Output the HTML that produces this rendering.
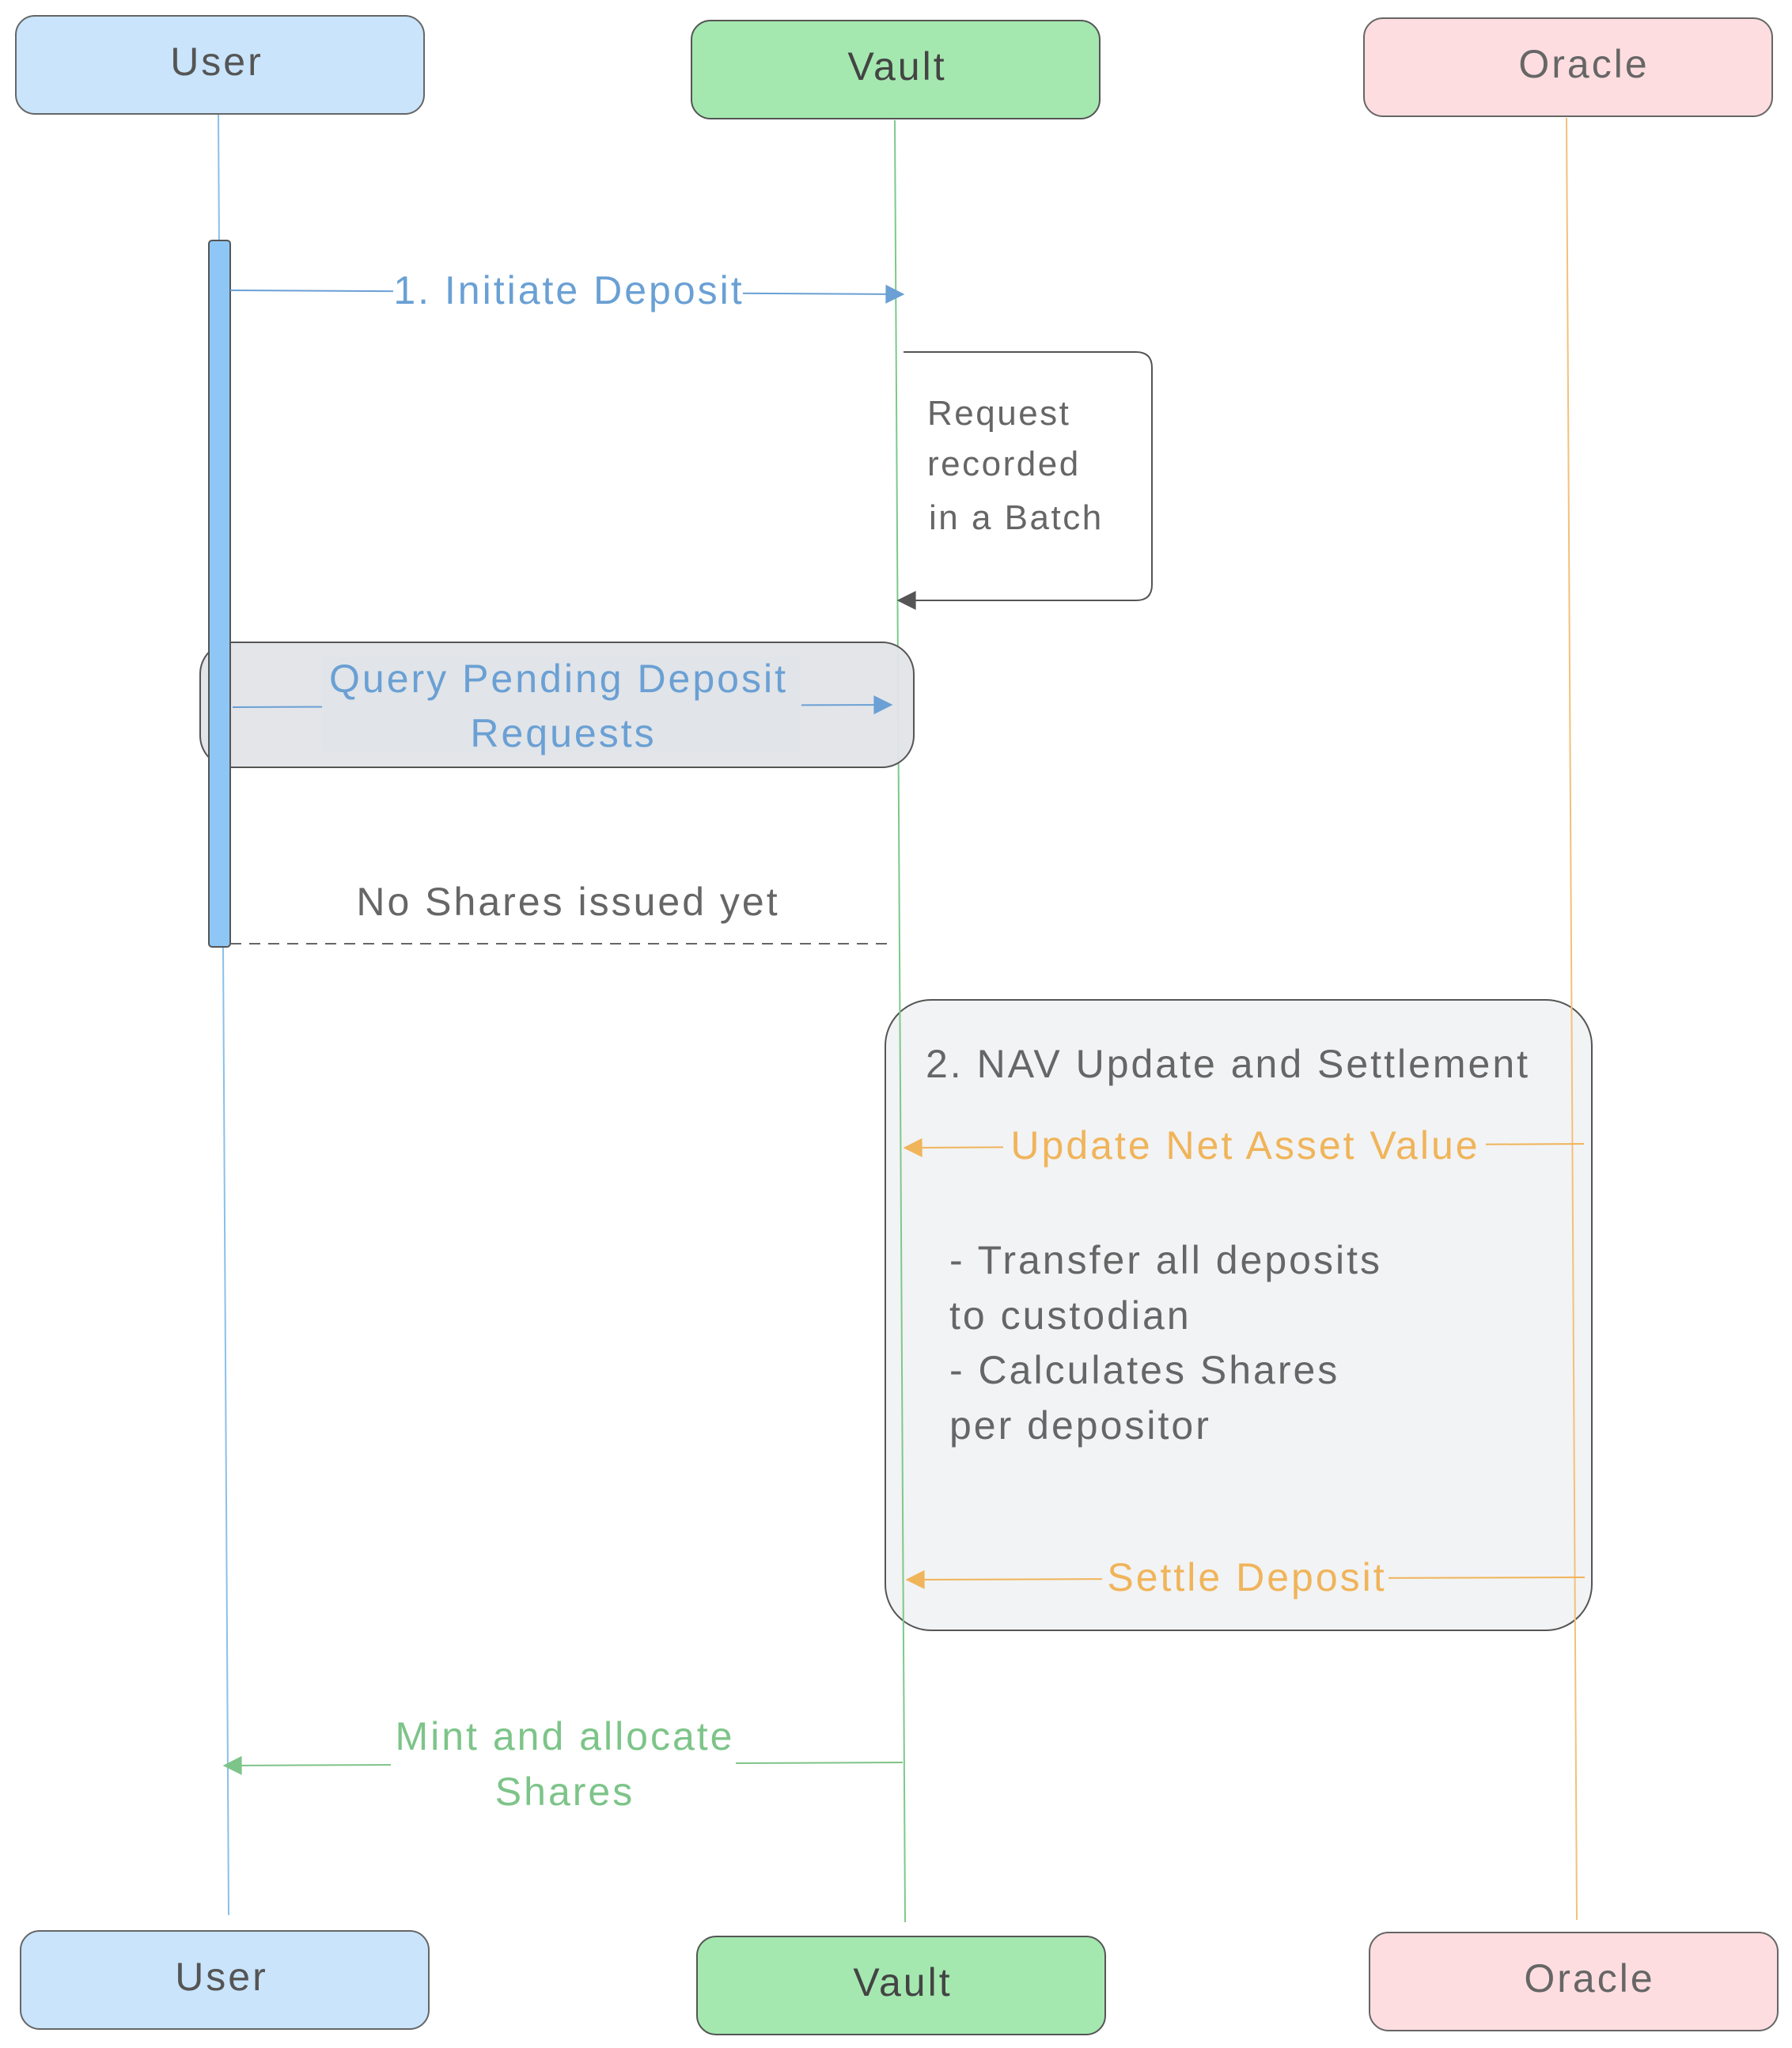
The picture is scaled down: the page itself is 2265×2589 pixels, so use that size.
<!DOCTYPE html>
<html><head><meta charset="utf-8"><style>
html,body{margin:0;padding:0;background:#fff;}
svg{display:block;}
text{font-family:"Liberation Sans","DejaVu Sans",sans-serif;letter-spacing:3px;}
</style></head><body>
<svg width="2265" height="2589" viewBox="0 0 2265 2589" xmlns="http://www.w3.org/2000/svg">
<defs>
<marker id="ao" viewBox="0 0 10 10" refX="9" refY="5" markerWidth="28" markerHeight="24" markerUnits="userSpaceOnUse" orient="auto"><path d="M0,0L10,5L0,10z" fill="#f0b45a"/></marker>
<marker id="ag" viewBox="0 0 10 10" refX="9" refY="5" markerWidth="28" markerHeight="24" markerUnits="userSpaceOnUse" orient="auto"><path d="M0,0L10,5L0,10z" fill="#7dc489"/></marker>
<marker id="ak" viewBox="0 0 10 10" refX="9" refY="5" markerWidth="28" markerHeight="24" markerUnits="userSpaceOnUse" orient="auto"><path d="M0,0L10,5L0,10z" fill="#555"/></marker>
<marker id="ab2" viewBox="0 0 10 10" refX="9" refY="5" markerWidth="28" markerHeight="24" markerUnits="userSpaceOnUse" orient="auto"><path d="M0,0L10,5L0,10z" fill="#6aa0d4"/></marker>
</defs>

<rect x="1119" y="1264" width="893" height="797" rx="58" fill="#f2f3f4" stroke="#555" stroke-width="2"/>

<line x1="276" y1="145" x2="289" y2="2421" stroke="#8ac0ea" stroke-width="2"/>
<line x1="1131" y1="152" x2="1144" y2="2430" stroke="#7cc98a" stroke-width="2"/>
<line x1="1980" y1="149" x2="1993" y2="2427" stroke="#f4c07a" stroke-width="2"/>

<rect x="253" y="812" width="902" height="158" rx="40" fill="#e1e4e8" fill-opacity="0.95" stroke="#555" stroke-width="2"/>

<rect x="264" y="304" width="27" height="893" rx="4" fill="#8ec7f5" stroke="#555" stroke-width="2"/>

<rect x="20" y="20" width="516" height="124" rx="24" fill="#c9e4fb" stroke="#666" stroke-width="2"/>
<text x="274" y="95" font-size="50" fill="#555" text-anchor="middle">User</text>
<rect x="874" y="26" width="516" height="124" rx="24" fill="#a4e8b0" stroke="#555" stroke-width="2"/>
<text x="1134" y="101" font-size="50" fill="#444" text-anchor="middle">Vault</text>
<rect x="1724" y="23" width="516" height="124" rx="24" fill="#fddde0" stroke="#666" stroke-width="2"/>
<text x="2002" y="98" font-size="50" fill="#666" text-anchor="middle">Oracle</text>

<rect x="26" y="2441" width="516" height="124" rx="24" fill="#c9e4fb" stroke="#666" stroke-width="2"/>
<text x="280" y="2516" font-size="50" fill="#555" text-anchor="middle">User</text>
<rect x="881" y="2448" width="516" height="124" rx="24" fill="#a4e8b0" stroke="#555" stroke-width="2"/>
<text x="1141" y="2523" font-size="50" fill="#444" text-anchor="middle">Vault</text>
<rect x="1731" y="2443" width="516" height="124" rx="24" fill="#fddde0" stroke="#666" stroke-width="2"/>
<text x="2009" y="2518" font-size="50" fill="#666" text-anchor="middle">Oracle</text>

<line x1="291" y1="367" x2="1141" y2="372" stroke="#6aa0d4" stroke-width="2" marker-end="url(#ab2)"/>
<rect x="497" y="335" width="442" height="60" fill="#fff"/>
<text x="719" y="384" font-size="50" fill="#6aa0d4" text-anchor="middle">1. Initiate Deposit</text>

<path d="M1142,445 L1436,445 Q1456,445 1456,465 L1456,739 Q1456,759 1436,759 L1136,759" fill="none" stroke="#555" stroke-width="2" marker-end="url(#ak)"/>
<text font-size="44" fill="#666" style="letter-spacing:2.5px"><tspan x="1172" y="537">Request</tspan><tspan x="1172" y="601">recorded</tspan><tspan x="1174" y="669">in a Batch</tspan></text>

<line x1="294" y1="894" x2="1126" y2="891" stroke="#6aa0d4" stroke-width="2" marker-end="url(#ab2)"/>
<rect x="407" y="830" width="606" height="120" fill="#e1e4e8"/>
<text font-size="50" fill="#6aa0d4" text-anchor="middle"><tspan x="706" y="875">Query Pending Deposit</tspan><tspan x="712" y="944">Requests</tspan></text>

<line x1="291" y1="1193" x2="1131" y2="1193" stroke="#666" stroke-width="2" stroke-dasharray="14,10"/>
<text x="718" y="1157" font-size="50" fill="#666" text-anchor="middle">No Shares issued yet</text>

<text x="1170" y="1362" font-size="50" fill="#666">2. NAV Update and Settlement</text>
<line x1="2002" y1="1446" x2="1144" y2="1451" stroke="#f0b45a" stroke-width="2" marker-end="url(#ao)"/>
<rect x="1268" y="1418" width="610" height="60" fill="#f2f3f4"/>
<text x="1574" y="1465" font-size="50" fill="#f0b45a" text-anchor="middle">Update Net Asset Value</text>
<text font-size="50" fill="#666"><tspan x="1200" y="1610">- Transfer all deposits</tspan><tspan x="1200" y="1680">to custodian</tspan><tspan x="1200" y="1749">- Calculates Shares</tspan><tspan x="1200" y="1819">per depositor</tspan></text>
<line x1="2003" y1="1994" x2="1147" y2="1997" stroke="#f0b45a" stroke-width="2" marker-end="url(#ao)"/>
<rect x="1393" y="1964" width="362" height="60" fill="#f2f3f4"/>
<text x="1576" y="2011" font-size="50" fill="#f0b45a" text-anchor="middle">Settle Deposit</text>

<line x1="1141" y1="2228" x2="284" y2="2232" stroke="#7dc489" stroke-width="2" marker-end="url(#ag)"/>
<rect x="494" y="2165" width="436" height="120" fill="#fff"/>
<text font-size="50" fill="#7dc489" text-anchor="middle"><tspan x="714" y="2212">Mint and allocate</tspan><tspan x="714" y="2282">Shares</tspan></text>
</svg>
</body></html>
